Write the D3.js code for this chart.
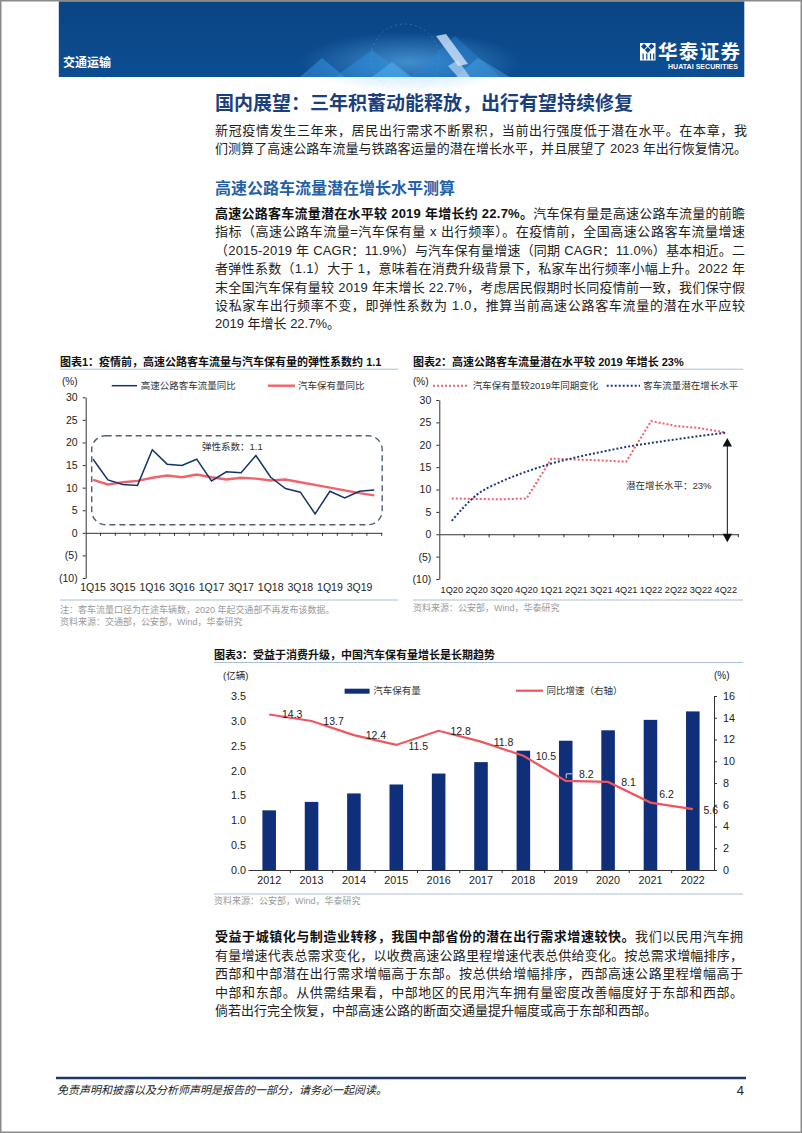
<!DOCTYPE html>
<html><head><meta charset="utf-8">
<script src="https://cdn.jsdelivr.net/npm/d3@7"></script>
<style>
html,body{margin:0;padding:0;background:#fff;}
svg{display:block;}
text{font-family:"Liberation Sans","Noto Sans CJK SC",sans-serif;}
</style></head><body>
<svg id="page" width="802" height="1133"></svg>
<script>
// ---------------- DATA ----------------
const c1Quarters = ['1Q15','2Q15','3Q15','4Q15','1Q16','2Q16','3Q16','4Q16','1Q17','2Q17','3Q17','4Q17','1Q18','2Q18','3Q18','4Q18','1Q19','2Q19','3Q19','4Q19'];
const c1Traffic  = [16.3,11.7,10.7,10.5,18.4,15.2,14.9,16.3,11.5,13.5,13.3,17.1,12.3,9.8,9.0,4.2,9.2,7.7,9.2,9.5];
const c1Vehicles = [11.7,10.7,11.2,11.5,12.2,12.7,12.3,12.9,12.3,11.8,12.2,12.0,11.6,11.8,11.2,10.6,10.0,9.4,8.8,8.3];
const c1YTicks = [30,25,20,15,10,5,0,-5,-10];
const c1XLabels = ['1Q15','3Q15','1Q16','3Q16','1Q17','3Q17','1Q18','3Q18','1Q19','3Q19'];
const c1Names = ['高速公路客车流量同比','汽车保有量同比'];

const c2Quarters = ['1Q20','2Q20','3Q20','4Q20','1Q21','2Q21','3Q21','4Q21','1Q22','2Q22','3Q22','4Q22'];
const c2Vehicles  = [8.0,7.9,7.8,8.0,16.9,16.7,16.5,16.2,25.3,24.2,23.7,22.7];
const c2Potential = [3.0,8.8,11.8,14.0,15.8,17.2,18.4,19.5,20.4,21.2,22.0,22.7];
const c2YTicks = [30,25,20,15,10,5,0,-5,-10];
const c2Names = ['汽车保有量较2019年同期变化','客车流量潜在增长水平'];

const c3Years  = ['2012','2013','2014','2015','2016','2017','2018','2019','2020','2021','2022'];
const c3Stock  = [1.20,1.37,1.54,1.72,1.94,2.17,2.40,2.60,2.81,3.02,3.19];
const c3Growth = [14.3,13.7,12.4,11.5,12.8,11.8,10.5,8.2,8.1,6.2,5.6];
const c3LeftTicks  = [0,0.5,1,1.5,2,2.5,3,3.5];
const c3RightTicks = [0,2,4,6,8,10,12,14,16];
const c3Names = ['汽车保有量','同比增速（右轴）'];

// ---------------- PAGE ----------------
const svg = d3.select('#page');
const defs = svg.append('defs');
const bg = defs.append('linearGradient').attr('id','bannerGrad').attr('x1',0).attr('y1',0).attr('x2',0).attr('y2',1);
bg.append('stop').attr('offset','0%').attr('stop-color','#0a4584');
bg.append('stop').attr('offset','100%').attr('stop-color','#0c4d92');
const glow = defs.append('radialGradient').attr('id','glow');
glow.append('stop').attr('offset','0%').attr('stop-color','#6ec3ff').attr('stop-opacity',0.55);
glow.append('stop').attr('offset','100%').attr('stop-color','#6ec3ff').attr('stop-opacity',0);

svg.append('rect').attr('x',0).attr('y',0).attr('width',802).attr('height',1133).attr('fill','#fff');
svg.append('rect').attr('x',0.75).attr('y',0.75).attr('width',800.5).attr('height',1131.5)
  .attr('fill','none').attr('stroke','#8a8a8a').attr('stroke-width',1.5);

// banner
svg.append('rect').attr('x',58.8).attr('y',1.5).attr('width',685.5).attr('height',75.5).attr('fill','url(#bannerGrad)');
svg.append('ellipse').attr('cx',410).attr('cy',62).attr('rx',110).attr('ry',30).attr('fill','url(#glow)');
svg.append('circle').attr('cx',405).attr('cy',58).attr('r',34).attr('fill','none').attr('stroke','#8fd0ff').attr('stroke-opacity',0.25).attr('stroke-dasharray','2,3');
const deco = [
  [[300,77],[322,58],[345,77],'#3aa0ea',0.45],
  [[335,77],[372,50],[408,77],'#2f95e3',0.45],
  [[372,77],[392,62],[412,77],'#56b6f3',0.5],
  [[410,77],[455,36],[500,77],'#2a88d6',0.4],
  [[455,77],[478,58],[510,77],'#4fb0ef',0.4]
];
deco.forEach(d => svg.append('polygon').attr('points',[d[0],d[1],d[2]].map(p=>p.join(',')).join(' '))
  .attr('fill',d[3]).attr('fill-opacity',d[4]));
svg.append('polygon').attr('points','436,36 446,34 468,64 458,66').attr('fill','#dbe9ff').attr('fill-opacity',0.75);
svg.append('polygon').attr('points','448,66 458,60 470,77 458,77').attr('fill','#cfe6ff').attr('fill-opacity',0.6);
svg.append('text').attr('x',63).attr('y',63).attr('dominant-baseline','central').attr('font-size',12)
  .attr('font-weight','bold').attr('fill','#fff').text('交通运输');
// logo
const lg = svg.append('g');
lg.append('rect').attr('x',640).attr('y',43).attr('width',15.5).attr('height',17.5).attr('fill','#fff');
[[644,46.5],[651.5,46.5],[647.8,50]].forEach(p => lg.append('polygon')
  .attr('points',`${p[0]},${p[1]-3} ${p[0]+3},${p[1]} ${p[0]},${p[1]+3} ${p[0]-3},${p[1]}`).attr('fill','#0b4788'));
[642.5,646.2,649.9,653.1].forEach(x => lg.append('rect').attr('x',x).attr('y',53.5).attr('width',1.2).attr('height',6).attr('fill','#0b4788'));
lg.append('text').attr('x',658).attr('y',51.5).attr('dominant-baseline','central').attr('font-size',19.5)
  .attr('font-weight','bold').attr('fill','#fff').attr('textLength',82).text('华泰证券');
lg.append('text').attr('x',668).attr('y',66).attr('dominant-baseline','central').attr('font-size',7)
  .attr('font-weight','bold').attr('fill','#fff').attr('textLength',70).text('HUATAI SECURITIES');

// ---------------- BODY TEXT ----------------
function textLine(x, y, segs, opts) {
  const t = svg.append('text').attr('x',x).attr('y',y).attr('dominant-baseline','central')
    .attr('font-size',opts.size).attr('fill',opts.color || '#222');
  segs.forEach(s => t.append('tspan').text(s[0]).attr('font-weight', s[1] ? 'bold' : (opts.weight||'normal'))
    .attr('fill', s[1] ? '#111' : (opts.color || '#222')));
  if (opts.width) t.attr('textLength',opts.width).attr('lengthAdjust','spacing');
  return t;
}
textLine(215,103.3,[['国内展望：三年积蓄动能释放，出行有望持续修复']],{size:19,weight:'bold',color:'#1b3f7c'});
const para1 = [
  [[['新冠疫情发生三年来，居民出行需求不断累积，当前出行强度低于潜在水平。在本章，我']],true],
  [[['们测算了高速公路车流量与铁路客运量的潜在增长水平，并且展望了 2023 年出行恢复情况。']],true]
];
para1.forEach((l,i) => textLine(215,130+18.4*i,l[0],{size:13,width:l[1]?532:null}));
textLine(215,188.3,[['高速公路车流量潜在增长水平测算']],{size:16,weight:'bold',color:'#2360a8'});
const para2 = [
  [[['高速公路客车流量潜在水平较 2019 年增长约 22.7%。',true],['汽车保有量是高速公路车流量的前瞻']],true],
  [[['指标（高速公路车流量=汽车保有量 x 出行频率）。在疫情前，全国高速公路客车流量增速']],true],
  [[['（2015-2019 年 CAGR：11.9%）与汽车保有量增速（同期 CAGR：11.0%）基本相近。二']],true],
  [[['者弹性系数（1.1）大于 1，意味着在消费升级背景下，私家车出行频率小幅上升。2022 年']],true],
  [[['末全国汽车保有量较 2019 年末增长 22.7%，考虑居民假期时长同疫情前一致，我们保守假']],true],
  [[['设私家车出行频率不变，即弹性系数为 1.0，推算当前高速公路客车流量的潜在水平应较']],true],
  [[['2019 年增长 22.7%。']],false]
];
para2.forEach((l,i) => textLine(215,212.7+18.45*i,l[0],{size:13,width:l[1]?530:null}));
const para3 = [
  [[['受益于城镇化与制造业转移，我国中部省份的潜在出行需求增速较快。',true],['我们以民用汽车拥']],true],
  [[['有量增速代表总需求变化，以收费高速公路里程增速代表总供给变化。按总需求增幅排序，']],true],
  [[['西部和中部潜在出行需求增幅高于东部。按总供给增幅排序，西部高速公路里程增幅高于']],true],
  [[['中部和东部。从供需结果看，中部地区的民用汽车拥有量密度改善幅度好于东部和西部。']],true],
  [[['倘若出行完全恢复，中部高速公路的断面交通量提升幅度或高于东部和西部。']],false]
];
para3.forEach((l,i) => textLine(215,936+18.6*i,l[0],{size:13,width:l[1]?528:null}));

// footer
svg.append('line').attr('x1',56).attr('x2',746).attr('y1',1078).attr('y2',1078).attr('stroke','#1d3766').attr('stroke-width',2.5);
svg.append('text').attr('x',57).attr('y',1090).attr('dominant-baseline','central').attr('font-size',11)
  .attr('font-style','italic').attr('fill','#222').text('免责声明和披露以及分析师声明是报告的一部分，请务必一起阅读。');
svg.append('text').attr('x',744).attr('y',1090).attr('dominant-baseline','central').attr('text-anchor','end')
  .attr('font-size',13).attr('fill','#222').text('4');

// ---------------- helpers ----------------
const fmtParen = d => d < 0 ? `(${-d})` : `${d}`;
function smallText(g, x, y, s, size, color, anchor, weight) {
  return g.append('text').attr('x',x).attr('y',y).attr('dominant-baseline','central')
    .attr('font-size',size).attr('fill',color||'#222').attr('text-anchor',anchor||'start')
    .attr('font-weight',weight||'normal').text(s);
}
function styleAxis(g, size) {
  g.selectAll('text').attr('font-size',size).attr('fill','#222');
  g.selectAll('line').attr('stroke','#333');
  g.selectAll('path').attr('stroke','#333');
}
function chartFrame(x0, x1, titleY, title, botY, notes, noteY) {
  smallText(svg, x0, titleY, title, 11, '#111', 'start', 'bold');
  svg.append('line').attr('x1',x0).attr('x2',x1).attr('y1',titleY+7.5).attr('y2',titleY+7.5).attr('stroke','#a9c0d8').attr('stroke-width',1);
  svg.append('line').attr('x1',x0).attr('x2',x1).attr('y1',botY).attr('y2',botY).attr('stroke','#a9c0d8').attr('stroke-width',1);
  notes.forEach((n,i) => smallText(svg, x0, noteY + 11.7*i, n, 9, '#9a9a9a'));
}

// ---------------- CHART 1 ----------------
chartFrame(60, 398, 361.7, '图表1：疫情前，高速公路客车流量与汽车保有量的弹性系数约 1.1', 600,
  ['注：客车流量口径为在途车辆数，2020 年起交通部不再发布该数据。','资料来源：交通部，公安部，Wind，华泰研究'], 610);
{
  const g = svg.append('g');
  const x = d3.scaleBand().domain(c1Quarters).range([85.7, 381.7]);
  const y = d3.scaleLinear().domain([-10,30]).range([578,397.3]);
  const ya = g.append('g').attr('transform','translate(85.7,0)')
    .call(d3.axisLeft(y).tickValues(c1YTicks).tickFormat(fmtParen).tickSize(3).tickPadding(5).tickSizeOuter(0));
  styleAxis(ya, 10.5);
  const xa = g.append('g').attr('transform',`translate(0,${y(0)})`)
    .call(d3.axisBottom(x).tickValues([]).tickSizeOuter(0));
  styleAxis(xa, 10.5);
  g.selectAll('.bt').data(c1Quarters.slice(1).concat(['end'])).enter().append('line')
    .attr('x1',d => d==='end' ? x.range()[1] : x(d)).attr('x2',d => d==='end' ? x.range()[1] : x(d))
    .attr('y1',y(0)).attr('y2',y(0)+3).attr('stroke','#333');
  const xl = g.append('g').attr('transform',`translate(0,${y(-10)})`)
    .call(d3.axisBottom(x).tickValues(c1XLabels).tickSize(0).tickPadding(6));
  xl.select('.domain').remove();
  styleAxis(xl, 10.5);
  // annotation box
  g.append('rect').attr('x',x.range()[0]+6).attr('y',y(21.5)).attr('width',x.range()[1]-x.range()[0]-5.5)
    .attr('height',y(1.8)-y(21.5)).attr('rx',14).attr('fill','none').attr('stroke','#4f6073')
    .attr('stroke-width',1.4).attr('stroke-dasharray','6,4');
  smallText(g, 202, 446.7, '弹性系数：1.1', 9.5, '#333');
  const line = d3.line().x((d,i)=>x(c1Quarters[i])+x.bandwidth()/2).y(d=>y(d));
  g.append('path').datum(c1Vehicles).attr('d',line).attr('fill','none').attr('stroke','#f2626b').attr('stroke-width',2.4);
  g.append('path').datum(c1Traffic).attr('d',line).attr('fill','none').attr('stroke','#13346a').attr('stroke-width',1.5);
  smallText(g, 62, 381.7, '(%)', 10, '#222');
  g.append('line').attr('x1',111.7).attr('x2',137).attr('y1',385.7).attr('y2',385.7).attr('stroke','#13346a').attr('stroke-width',1.5);
  smallText(g, 140.7, 385.7, c1Names[0], 9.5, '#333');
  g.append('line').attr('x1',268).attr('x2',295).attr('y1',385.7).attr('y2',385.7).attr('stroke','#f2626b').attr('stroke-width',2.4);
  smallText(g, 298, 385.7, c1Names[1], 9.5, '#333');
}

// ---------------- CHART 2 ----------------
chartFrame(413, 743, 361.7, '图表2：高速公路客车流量潜在水平较 2019 年增长 23%', 600,
  ['资料来源：公安部，Wind，华泰研究'], 608.3);
{
  const g = svg.append('g');
  const x = d3.scaleBand().domain(c2Quarters).range([439.3, 738.3]);
  const y = d3.scaleLinear().domain([-10,30]).range([579,400]);
  const ya = g.append('g').attr('transform','translate(439.3,0)')
    .call(d3.axisLeft(y).tickValues(c2YTicks).tickFormat(fmtParen).tickSize(3).tickPadding(5).tickSizeOuter(0));
  styleAxis(ya, 10.5);
  const xa = g.append('g').attr('transform',`translate(0,${y(0)})`)
    .call(d3.axisBottom(x).tickValues([]).tickSizeOuter(0));
  styleAxis(xa, 10.5);
  g.selectAll('.bt').data(c2Quarters.slice(1).concat(['end'])).enter().append('line')
    .attr('x1',d => d==='end' ? x.range()[1] : x(d)).attr('x2',d => d==='end' ? x.range()[1] : x(d))
    .attr('y1',y(0)).attr('y2',y(0)+3).attr('stroke','#333');
  const xl = g.append('g').attr('transform',`translate(0,${y(-10)})`)
    .call(d3.axisBottom(x).tickSize(0).tickPadding(7));
  xl.select('.domain').remove();
  styleAxis(xl, 9.2);
  const cx = (d,i)=>x(c2Quarters[i])+x.bandwidth()/2;
  g.append('path').datum(c2Vehicles).attr('d',d3.line().x(cx).y(d=>y(d)))
    .attr('fill','none').attr('stroke','#f0606d').attr('stroke-width',2).attr('stroke-dasharray','2,2');
  g.append('path').datum(c2Potential).attr('d',d3.line().x(cx).y(d=>y(d)).curve(d3.curveMonotoneX))
    .attr('fill','none').attr('stroke','#1c3a78').attr('stroke-width',2).attr('stroke-dasharray','2,2');
  // double arrow
  const ax = x('4Q22') + x.bandwidth()/2 + 1.5;
  const top = y(21.5), bot = y(-1.8);
  g.append('line').attr('x1',ax).attr('x2',ax).attr('y1',top+6).attr('y2',bot-6).attr('stroke','#111').attr('stroke-width',1);
  g.append('polygon').attr('points',`${ax},${top} ${ax-4.7},${top+8.5} ${ax+4.7},${top+8.5}`).attr('fill','#111');
  g.append('polygon').attr('points',`${ax},${bot} ${ax-4.7},${bot-8.5} ${ax+4.7},${bot-8.5}`).attr('fill','#111');
  smallText(g, 626, 485.7, '潜在增长水平：23%', 9.5, '#333');
  smallText(g, 413, 381.7, '(%)', 10, '#222');
  g.append('line').attr('x1',433).attr('x2',468).attr('y1',385.7).attr('y2',385.7).attr('stroke','#f0606d').attr('stroke-width',2).attr('stroke-dasharray','2,2');
  smallText(g, 472.7, 385.7, c2Names[0], 9.5, '#333');
  g.append('line').attr('x1',606.7).attr('x2',640).attr('y1',385.7).attr('y2',385.7).attr('stroke','#1c3a78').attr('stroke-width',2).attr('stroke-dasharray','2,2');
  smallText(g, 643.3, 385.7, c2Names[1], 9.5, '#333');
}

// ---------------- CHART 3 ----------------
chartFrame(214, 743, 655, '图表3：受益于消费升级，中国汽车保有量增长是长期趋势', 894,
  ['资料来源：公安部，Wind，华泰研究'], 900.7);
{
  const g = svg.append('g');
  const x = d3.scaleBand().domain(c3Years).range([248, 714]).paddingInner(0.68).paddingOuter(0.34);
  const xb = d3.scaleBand().domain(c3Years).range([248, 714]);
  const yL = d3.scaleLinear().domain([0,3.5]).range([870,696]);
  const yR = d3.scaleLinear().domain([0,16]).range([870,696]);
  const la = g.append('g').attr('transform','translate(248,0)')
    .call(d3.axisLeft(yL).tickValues(c3LeftTicks).tickFormat(d3.format('.1f')).tickSize(0).tickPadding(2));
  la.select('.domain').remove();
  styleAxis(la, 10.8);
  const ra = g.append('g').attr('transform','translate(714,0)')
    .call(d3.axisRight(yR).tickValues(c3RightTicks).tickSize(3).tickPadding(6).tickSizeOuter(0));
  styleAxis(ra, 10.8);
  g.selectAll('.bar').data(c3Stock).enter().append('rect')
    .attr('x',(d,i)=>x(c3Years[i])).attr('width',x.bandwidth())
    .attr('y',d=>yL(d)).attr('height',d=>yL(0)-yL(d)).attr('fill','#0f2f7a');
  const xa = g.append('g').attr('transform','translate(0,870)')
    .call(d3.axisBottom(xb).tickValues([]).tickSizeOuter(0));
  styleAxis(xa, 10.8);
  g.selectAll('.bt').data(c3Years.slice(1)).enter().append('line')
    .attr('x1',d=>xb(d)).attr('x2',d=>xb(d)).attr('y1',870).attr('y2',873).attr('stroke','#333');
  const xl = g.append('g').attr('transform','translate(0,870)')
    .call(d3.axisBottom(xb).tickSize(0).tickPadding(6));
  xl.select('.domain').remove();
  styleAxis(xl, 10.8);
  const cx = (d,i)=>xb(c3Years[i])+xb.bandwidth()/2;
  g.append('path').datum(c3Growth).attr('d',d3.line().x(cx).y(d=>yR(d)))
    .attr('fill','none').attr('stroke','#f0555f').attr('stroke-width',2.2);
  // value labels (layout offsets from each point)
  const labelOffset = [[23,0],[22,0],[22,0],[22,1],[22,0],[22.5,0],[22.5,0],[20.5,-6.5],[20.5,0.5],[16,-9],[18,1]];
  c3Growth.forEach((v,i) => {
    smallText(g, cx(v,i)+labelOffset[i][0], yR(v)+labelOffset[i][1], v.toFixed(1), 10.5, '#222', 'middle');
  });
  // leader for 2019 label
  const lx = cx(0,7);
  g.append('path').attr('d',`M${lx+0.5},${yR(8.2)-2.5} V${yR(8.2)-7} H${lx+6.5}`)
    .attr('fill','none').attr('stroke','#c9d6e8').attr('stroke-width',1);
  smallText(g, 223, 675.7, '(亿辆)', 9.5, '#222');
  smallText(g, 714, 675.7, '(%)', 10, '#222');
  g.append('rect').attr('x',344.6).attr('y',688.7).attr('width',25).attr('height',5).attr('fill','#0f2f7a');
  smallText(g, 373.2, 690.7, c3Names[0], 9.5, '#333');
  g.append('line').attr('x1',516).attr('x2',543).attr('y1',690.7).attr('y2',690.7).attr('stroke','#f0555f').attr('stroke-width',2.2);
  smallText(g, 546.4, 690.7, c3Names[1], 9.5, '#333');
}
</script>
</body></html>
